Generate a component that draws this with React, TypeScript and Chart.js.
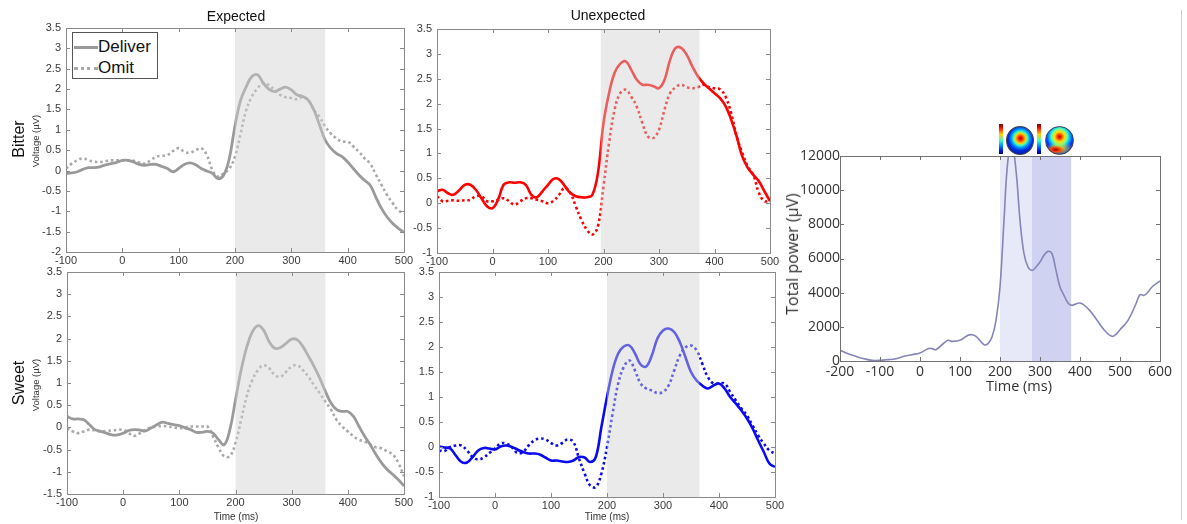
import React, { useEffect, useRef } from "react";
import { Chart, registerables } from "chart.js";

Chart.register(...registerables);

const W = 1187;
const H = 524;

// ERP time base (ms)
const erpTime = [
  -100, -90, -80, -70, -60, -50, -40, -30, -20, -10,
  0, 10, 20, 30, 40, 50, 60, 70, 80, 90,
  100, 110, 120, 130, 140, 150, 160, 170, 180, 190,
  200, 210, 220, 230, 240, 250, 260, 270, 280, 290,
  300, 310, 320, 330, 340, 350, 360, 370, 380, 390,
  400, 410, 420, 430, 440, 450, 460, 470, 480, 490, 500,
];

// Expected / Bitter (µV)
const expBitterDeliver = [
  -0.07, -0.06, -0.03, 0.03, 0.07, 0.07, 0.09, 0.14, 0.17, 0.2,
  0.25, 0.25, 0.21, 0.15, 0.13, 0.15, 0.15, 0.1, 0.05, -0.03,
  0.05, 0.15, 0.19, 0.14, 0.05, -0.01, -0.07, -0.2, -0.11, 0.3,
  1.1, 1.73, 2.06, 2.31, 2.35, 2.15, 2.0, 1.94, 2.0, 2.05,
  1.98, 1.86, 1.82, 1.73, 1.49, 1.12, 0.75, 0.55, 0.42, 0.34,
  0.21, 0.05, -0.11, -0.24, -0.36, -0.65, -0.93, -1.14, -1.3, -1.42, -1.52,
];
const expBitterOmit = [
  0.05, 0.17, 0.25, 0.3, 0.25, 0.22, 0.21, 0.23, 0.25, 0.25,
  0.25, 0.25, 0.24, 0.2, 0.17, 0.25, 0.34, 0.36, 0.38, 0.48,
  0.55, 0.46, 0.44, 0.5, 0.55, 0.38, 0.01, -0.15, -0.07, 0.05,
  0.34, 0.91, 1.49, 1.82, 2.02, 2.15, 2.1, 1.98, 1.86, 1.8,
  1.78, 1.75, 1.8, 1.73, 1.49, 1.32, 1.08, 0.91, 0.79, 0.71,
  0.71, 0.59, 0.46, 0.3, 0.17, -0.1, -0.35, -0.6, -0.8, -0.98, -1.05,
];

// Expected / Sweet (µV)
const expSweetDeliver = [
  0.25, 0.19, 0.19, 0.17, 0.06, -0.05, -0.09, -0.13, -0.17, -0.17,
  -0.13, -0.07, -0.05, -0.06, -0.08, -0.01, 0.06, 0.12, 0.09, 0.06,
  0.04, -0.01, -0.05, -0.11, -0.11, -0.09, -0.13, -0.28, -0.39, -0.05,
  0.62, 1.29, 1.81, 2.15, 2.29, 2.19, 1.93, 1.78, 1.8, 1.89,
  1.99, 1.97, 1.82, 1.6, 1.37, 1.11, 0.81, 0.55, 0.4, 0.36,
  0.36, 0.25, 0.02, -0.2, -0.39, -0.61, -0.8, -0.95, -1.06, -1.18, -1.32,
];
const expSweetOmit = [
  -0.02, -0.09, -0.13, -0.09, -0.05, -0.07, -0.09, -0.08, -0.07, -0.06,
  -0.05, -0.13, -0.19, -0.13, -0.05, 0.0, 0.02, 0.03, 0.02, 0.0,
  -0.02, 0.0, 0.02, 0.02, 0.02, 0.02, -0.2, -0.46, -0.65, -0.65,
  -0.35, 0.17, 0.7, 1.07, 1.29, 1.4, 1.33, 1.18, 1.14, 1.25,
  1.37, 1.4, 1.29, 1.14, 0.95, 0.77, 0.58, 0.4, 0.17, 0.02,
  -0.09, -0.2, -0.28, -0.32, -0.39, -0.45, -0.47, -0.54, -0.61, -0.8, -1.1,
];

// Unexpected / Bitter (µV)
const unexpBitterDeliver = [
  0.24, 0.27, 0.2, 0.17, 0.26, 0.37, 0.37, 0.27, 0.1, -0.06,
  -0.1, 0.07, 0.37, 0.42, 0.41, 0.42, 0.37, 0.17, 0.12, 0.24,
  0.37, 0.49, 0.48, 0.35, 0.21, 0.14, 0.12, 0.12, 0.17, 0.61,
  1.61, 2.21, 2.62, 2.8, 2.85, 2.68, 2.48, 2.38, 2.38, 2.35,
  2.31, 2.48, 2.88, 3.12, 3.12, 2.98, 2.75, 2.55, 2.41, 2.31,
  2.21, 2.11, 1.95, 1.68, 1.34, 0.94, 0.71, 0.57, 0.44, 0.24, 0.04,
];
const unexpBitterOmit = [
  0.14, 0.04, 0.05, 0.06, 0.05, 0.06, 0.07, 0.14, 0.14, 0.04,
  0.04, 0.07, 0.1, 0.04, -0.03, 0.04, 0.1, 0.1, 0.07, 0.04,
  0.0, 0.05, 0.17, 0.31, 0.21, -0.06, -0.33, -0.53, -0.63, -0.46,
  0.34, 1.21, 1.88, 2.21, 2.28, 2.14, 1.94, 1.61, 1.34, 1.31,
  1.48, 1.88, 2.21, 2.33, 2.38, 2.33, 2.31, 2.33, 2.38, 2.33,
  2.31, 2.29, 2.14, 1.81, 1.34, 1.01, 0.74, 0.57, 0.21, 0.04, 0.07,
];

// Unexpected / Sweet (µV)
const unexpSweetDeliver = [
  0.01, -0.01, -0.03, -0.17, -0.3, -0.31, -0.2, -0.07, -0.02, -0.03,
  -0.05, 0.01, 0.03, 0.0, -0.05, -0.1, -0.13, -0.13, -0.15, -0.21,
  -0.27, -0.27, -0.29, -0.3, -0.27, -0.2, -0.21, -0.3, -0.2, 0.4,
  1.0, 1.53, 1.87, 2.01, 2.03, 1.87, 1.65, 1.61, 1.83, 2.17,
  2.33, 2.37, 2.3, 2.1, 1.8, 1.5, 1.33, 1.23, 1.17, 1.23,
  1.27, 1.17, 1.0, 0.87, 0.73, 0.57, 0.37, 0.13, -0.1, -0.33, -0.4,
];
const unexpSweetOmit = [
  -0.07, -0.08, 0.0, 0.03, 0.03, -0.07, -0.2, -0.25, -0.21, -0.12,
  -0.03, 0.07, 0.07, 0.0, -0.12, -0.1, 0.03, 0.13, 0.17, 0.15,
  0.08, 0.03, 0.08, 0.15, 0.1, -0.23, -0.53, -0.77, -0.8, -0.53,
  0.0, 0.67, 1.27, 1.6, 1.73, 1.53, 1.27, 1.17, 1.13, 1.08,
  1.1, 1.23, 1.53, 1.83, 1.99, 2.03, 1.93, 1.67, 1.4, 1.27,
  1.27, 1.27, 1.1, 0.93, 0.77, 0.63, 0.43, 0.23, 0.07, -0.07, -0.13,
];

// Total power trace
const powerTime = [
  -200, -180, -160, -140, -120, -100, -80, -60, -40, -20,
  0, 20, 30, 40, 60, 70, 80, 100, 120, 130,
  140, 160, 170, 180, 190, 200, 210, 220, 230, 240,
  250, 260, 270, 280, 290, 300, 310, 320, 330, 340,
  350, 360, 370, 380, 400, 420, 440, 460, 480, 490,
  500, 520, 540, 550, 560, 570, 580, 600,
];
const powerValue = [
  624, 429, 273, 137, 39, 39, 78, 137, 273, 371,
  468, 722, 722, 663, 1054, 1210, 1151, 1210, 1502, 1541,
  1444, 956, 1015, 1405, 2380, 4332, 8234, 11800, 12600, 11161,
  8234, 6283, 5502, 5307, 5502, 5795, 6185, 6419, 6283, 5307,
  4332, 3844, 3395, 3259, 3395, 3063, 2478, 1834, 1444, 1561,
  1834, 2380, 3356, 3883, 3844, 4039, 4332, 4683,
];

// Highlighted windows (ms)
const expWindow = [200, 360];
const unexpBitterWindow = [195, 373];
const unexpSweetWindow = [200, 365];
const powerWindowEarly = [200, 280];
const powerWindowLate = [280, 378];

const pts = (xs: number[], ys: number[]) => xs.map((x, i) => ({ x, y: ys[i] }));

const ARIAL = "'Liberation Sans', Arial, Helvetica, sans-serif";
const OPEN = "'Open Sans', 'DejaVu Sans', sans-serif";

type Shade = { from: number; to: number; color: string };
type Spec = {
  area: { left: number; top: number; right: number; bottom: number };
  x: [number, number, number];
  y: [number, number, number];
  yW: number;
  xH: number;
  font: string;
  size: number;
  tickColor: string;
  padX: number;
  padY: number;
  frame: string;
  shades: Shade[];
  shadeOnTop: boolean;
  datasets: any[];
};

function solid(data: { x: number; y: number }[], color: string, width = 2.6) {
  return {
    data,
    borderColor: color,
    borderWidth: width,
    pointRadius: 0,
    tension: 0.4,
    fill: false,
  };
}
function dotted(data: { x: number; y: number }[], color: string) {
  return {
    data,
    borderColor: color,
    borderWidth: 2.6,
    borderDash: [2.6, 2.8],
    pointRadius: 0,
    tension: 0.4,
    fill: false,
  };
}

function framePlugin(spec: Spec) {
  const drawShades = (chart: any) => {
    const { ctx, chartArea } = chart;
    const xs = chart.scales.x;
    ctx.save();
    spec.shades.forEach((s) => {
      const x1 = xs.getPixelForValue(s.from);
      const x2 = xs.getPixelForValue(s.to);
      ctx.fillStyle = s.color;
      ctx.fillRect(x1, chartArea.top, x2 - x1, chartArea.bottom - chartArea.top);
    });
    ctx.restore();
  };
  return {
    id: "matlabFrame",
    beforeDatasetsDraw(chart: any) {
      if (!spec.shadeOnTop) drawShades(chart);
    },
    afterDatasetsDraw(chart: any) {
      if (spec.shadeOnTop) drawShades(chart);
    },
    afterDraw(chart: any) {
      const { ctx, chartArea } = chart;
      const { left, right, top, bottom } = chartArea;
      const len = 4;
      ctx.save();
      ctx.strokeStyle = spec.frame;
      ctx.lineWidth = 1;
      ctx.strokeRect(Math.round(left) + 0.5, Math.round(top) + 0.5, Math.round(right - left), Math.round(bottom - top));
      ctx.beginPath();
      chart.scales.x.ticks.forEach((t: any) => {
        const px = Math.round(chart.scales.x.getPixelForValue(t.value)) + 0.5;
        ctx.moveTo(px, bottom);
        ctx.lineTo(px, bottom - len);
        ctx.moveTo(px, top);
        ctx.lineTo(px, top + len);
      });
      chart.scales.y.ticks.forEach((t: any) => {
        const py = Math.round(chart.scales.y.getPixelForValue(t.value)) + 0.5;
        ctx.moveTo(left, py);
        ctx.lineTo(left + len, py);
        ctx.moveTo(right, py);
        ctx.lineTo(right - len, py);
      });
      ctx.stroke();
      ctx.restore();
    },
  };
}

function Panel({ spec }: { spec: Spec }) {
  const ref = useRef<HTMLCanvasElement>(null);
  useEffect(() => {
    if (!ref.current) return;
    const a = spec.area;
    const tickFont = { family: spec.font, size: spec.size };
    const chart = new Chart(ref.current, {
      type: "line",
      data: { datasets: spec.datasets },
      plugins: [framePlugin(spec)],
      options: {
        animation: false,
        responsive: false,
        devicePixelRatio: 1,
        events: [],
        layout: {
          padding: {
            left: a.left - spec.yW,
            top: a.top,
            right: W - a.right,
            bottom: H - a.bottom - spec.xH,
          },
        },
        plugins: { legend: { display: false }, tooltip: { enabled: false }, title: { display: false } },
        scales: {
          x: {
            type: "linear",
            min: spec.x[0],
            max: spec.x[1],
            afterFit: (s: any) => {
              s.height = spec.xH;
            },
            ticks: {
              stepSize: spec.x[2],
              autoSkip: false,
              maxRotation: 0,
              font: tickFont,
              color: spec.tickColor,
              padding: spec.padX,
              callback: (v: any) => String(v),
            },
            grid: { display: false, drawTicks: false },
            border: { display: false },
          },
          y: {
            type: "linear",
            min: spec.y[0],
            max: spec.y[1],
            afterFit: (s: any) => {
              s.width = spec.yW;
            },
            ticks: {
              stepSize: spec.y[2],
              autoSkip: false,
              font: tickFont,
              color: spec.tickColor,
              padding: spec.padY,
              callback: (v: any) => String(v),
            },
            grid: { display: false, drawTicks: false },
            border: { display: false },
          },
        },
      } as any,
    });
    return () => chart.destroy();
  }, [spec]);
  return (
    <canvas
      ref={ref}
      width={W}
      height={H}
      style={{ position: "absolute", left: 0, top: 0, width: W, height: H }}
    />
  );
}

const GREY_SHADE = "rgba(208, 208, 208, 0.45)";
const ERP_GREY = "#9a9a9a";
const ERP_GREY_DOT = "#a9a9a9";

const erpBase = {
  yW: 40,
  xH: 18,
  font: ARIAL,
  size: 11,
  tickColor: "#3a3a3a",
  padX: 2,
  padY: 5,
  frame: "#8a8a8a",
  shadeOnTop: true,
};

const specs: Spec[] = [
  {
    ...erpBase,
    area: { left: 66, top: 28, right: 404, bottom: 252 },
    x: [-100, 500, 100],
    y: [-2, 3.5, 0.5],
    shades: [{ from: expWindow[0], to: expWindow[1], color: GREY_SHADE }],
    datasets: [
      solid(pts(erpTime, expBitterDeliver), ERP_GREY, 2.8),
      dotted(pts(erpTime, expBitterOmit), ERP_GREY_DOT),
    ],
  },
  {
    ...erpBase,
    area: { left: 67, top: 272, right: 404, bottom: 494 },
    x: [-100, 500, 100],
    y: [-1.5, 3.5, 0.5],
    shades: [{ from: expWindow[0], to: expWindow[1], color: GREY_SHADE }],
    datasets: [
      solid(pts(erpTime, expSweetDeliver), ERP_GREY, 2.8),
      dotted(pts(erpTime, expSweetOmit), ERP_GREY_DOT),
    ],
  },
  {
    ...erpBase,
    area: { left: 437, top: 29, right: 770, bottom: 253 },
    x: [-100, 500, 100],
    y: [-1, 3.5, 0.5],
    shades: [{ from: unexpBitterWindow[0], to: unexpBitterWindow[1], color: GREY_SHADE }],
    datasets: [
      solid(pts(erpTime, unexpBitterDeliver), "#ff0000"),
      dotted(pts(erpTime, unexpBitterOmit), "#ff0000"),
    ],
  },
  {
    ...erpBase,
    area: { left: 439, top: 272, right: 775, bottom: 497 },
    x: [-100, 500, 100],
    y: [-1, 3.5, 0.5],
    shades: [{ from: unexpSweetWindow[0], to: unexpSweetWindow[1], color: GREY_SHADE }],
    datasets: [
      solid(pts(erpTime, unexpSweetDeliver), "#0a0af0"),
      dotted(pts(erpTime, unexpSweetOmit), "#0a0af0"),
    ],
  },
  {
    area: { left: 840, top: 156, right: 1160, bottom: 361 },
    x: [-200, 600, 100],
    y: [0, 12000, 2000],
    yW: 50,
    xH: 22,
    font: OPEN,
    size: 14,
    tickColor: "#333333",
    padX: 3,
    padY: 0,
    frame: "#707070",
    shadeOnTop: false,
    shades: [
      { from: powerWindowEarly[0], to: powerWindowEarly[1], color: "#e7e8f8" },
      { from: powerWindowLate[0], to: powerWindowLate[1], color: "#cfd2f1" },
    ],
    datasets: [solid(pts(powerTime, powerValue), "#8585b8", 1.6)],
  },
];

const txt = (
  label: string,
  cx: number,
  cy: number,
  size: number,
  opts: { rotate?: boolean; font?: string; color?: string } = {}
) => (
  <div
    key={label + cx + cy}
    style={{
      position: "absolute",
      left: cx,
      top: cy,
      transform: `translate(-50%, -50%)${opts.rotate ? " rotate(-90deg)" : ""}`,
      whiteSpace: "nowrap",
      fontFamily: opts.font || ARIAL,
      fontSize: size,
      lineHeight: 1,
      color: opts.color || "#111",
    }}
  >
    {label}
  </div>
);

const colorBar =
  "linear-gradient(to bottom, #7a0000 0%, #ff1a00 15%, #ffd200 35%, #3cffc0 55%, #0090ff 72%, #0010e0 90%, #00006a 100%)";

export default function App() {
  return (
    <div
      style={{
        position: "absolute",
        left: 0,
        top: 0,
        width: W,
        height: H,
        background: "#ffffff",
        overflow: "hidden",
      }}
    >
      {specs.map((s, i) => (
        <Panel key={i} spec={s} />
      ))}

      {txt("Expected", 236, 16, 14)}
      {txt("Unexpected", 608, 15, 14)}
      {txt("Bitter", 19, 139, 16, { rotate: true })}
      {txt("Voltage (µV)", 36, 141, 9.5, { rotate: true, color: "#333" })}
      {txt("Sweet", 19, 383, 16, { rotate: true })}
      {txt("Voltage (µV)", 36, 385, 9.5, { rotate: true, color: "#333" })}
      {txt("Time (ms)", 236, 517, 10, { color: "#333" })}
      {txt("Time (ms)", 607, 517, 10, { color: "#333" })}
      {txt("Time (ms)", 1019, 386, 14.5, { font: OPEN, color: "#333" })}
      {txt("Total power (µV)", 792, 254, 16, { rotate: true, font: OPEN, color: "#333" })}

      {/* legend for the expected/bitter panel */}
      <div
        style={{
          position: "absolute",
          left: 72,
          top: 32,
          width: 84,
          height: 45,
          border: "1px solid #555",
          background: "#fff",
        }}
      >
        <div style={{ position: "absolute", left: 1, top: 13, width: 24, borderTop: `3px solid ${ERP_GREY}` }} />
        <div style={{ position: "absolute", left: 25, top: 5, fontFamily: ARIAL, fontSize: 17, lineHeight: 1, color: "#111" }}>
          Deliver
        </div>
        <div style={{ position: "absolute", left: 1, top: 34, width: 24, borderTop: `3px dotted ${ERP_GREY_DOT}` }} />
        <div style={{ position: "absolute", left: 25, top: 26, fontFamily: ARIAL, fontSize: 17, lineHeight: 1, color: "#111" }}>
          Omit
        </div>
      </div>

      {/* scalp maps above the power windows */}
      <div style={{ position: "absolute", left: 999, top: 124, width: 4, height: 30, background: colorBar }} />
      <div
        style={{
          position: "absolute",
          left: 1006,
          top: 126,
          width: 26,
          height: 27,
          borderRadius: "50%",
          border: "1px solid #444",
          background:
            "radial-gradient(circle at 52% 42%, #a00000 0px, #ff2000 2px, #ffd000 5px, #40ffb0 7px, #00a0ff 9px, #0030e0 12px, #0010a0 18px)",
        }}
      />
      <div style={{ position: "absolute", left: 1037, top: 124, width: 4, height: 30, background: colorBar }} />
      <div
        style={{
          position: "absolute",
          left: 1045,
          top: 126,
          width: 27,
          height: 27,
          borderRadius: "50%",
          border: "1px solid #444",
          background:
            "radial-gradient(ellipse 9px 4px at 35% 84%, #900000 0%, #ff4000 50%, rgba(255,220,0,0) 100%), radial-gradient(ellipse 14px 7px at 50% 80%, #ffe000 0%, rgba(255,230,0,0) 100%), radial-gradient(circle at 50% 36%, #c00000 0px, #ff3000 2px, #ffe000 5px, #60ffa0 8px, #00c0ff 10px, #0040ff 13px, #0020c0 20px)",
        }}
      />

      {/* page edge rule */}
      <div style={{ position: "absolute", left: 1181, top: 10, width: 1, height: 510, background: "#cfcfcf" }} />
    </div>
  );
}
